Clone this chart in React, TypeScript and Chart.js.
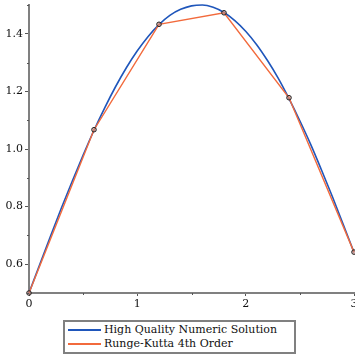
import React, { useEffect, useRef } from "react";
import { Chart, registerables } from "chart.js";

Chart.register(...registerables);

// High quality numeric solution
const exactX = [0, 0.1, 0.2, 0.3, 0.4, 0.5, 0.6, 0.7, 0.8, 0.9, 1.0, 1.1, 1.2, 1.3, 1.4, 1.5, 1.6, 1.7, 1.8, 1.9, 2.0, 2.1, 2.2, 2.3, 2.4, 2.5, 2.6, 2.7, 2.8, 2.9, 3.0];
const exactY = [0.5, 0.6, 0.699, 0.796, 0.889, 0.979, 1.065, 1.144, 1.217, 1.283, 1.341, 1.391, 1.432, 1.464, 1.485, 1.497, 1.5, 1.492, 1.474, 1.446, 1.409, 1.363, 1.308, 1.246, 1.175, 1.098, 1.016, 0.927, 0.835, 0.739, 0.641];

// Runge-Kutta 4th order
const rkX = [0, 0.6, 1.2, 1.8, 2.4, 3.0];
const rkY = [0.5, 1.067, 1.433, 1.473, 1.178, 0.642];

const seriesNames = ["High Quality Numeric Solution", "Runge-Kutta 4th Order"];
const xTickLabels = ["0", "1", "2", "3"];
const yTickLabels = ["0.6", "0.8", "1.0", "1.2", "1.4"];

const BLUE = "#1f56bb";
const ORANGE = "#f26a3c";
const AXIS = "#808080";
const FONT = "'DejaVu Serif', serif";

export default function App() {
  const ref = useRef<HTMLCanvasElement | null>(null);

  useEffect(() => {
    document.body.style.margin = "0";
    const canvas = ref.current!;
    const minorTicks = {
      id: "minorTicks",
      afterDraw(chart: any) {
        const ctx = chart.ctx;
        const xs = chart.scales.x;
        const ys = chart.scales.y;
        ctx.save();
        ctx.strokeStyle = "#555";
        ctx.lineWidth = 1;
        xs.ticks.forEach((t: any) => {
          const lbl = String(t.value);
          if (xTickLabels.indexOf(lbl) >= 0) return;
          const px = Math.round(xs.getPixelForValue(t.value)) + 0.5;
          ctx.beginPath();
          ctx.moveTo(px, ys.bottom);
          ctx.lineTo(px, ys.bottom + 2);
          ctx.stroke();
        });
        ys.ticks.forEach((t: any) => {
          const lbl = t.value.toFixed(1);
          if (yTickLabels.indexOf(lbl) >= 0) return;
          const py = Math.round(ys.getPixelForValue(t.value)) + 0.5;
          ctx.beginPath();
          ctx.moveTo(xs.left - 2, py);
          ctx.lineTo(xs.left, py);
          ctx.stroke();
        });
        ctx.restore();
      },
    };

    const chart = new Chart(canvas, {
      type: "line",
      data: {
        datasets: [
          {
            label: seriesNames[0],
            data: exactX.map((x, i) => ({ x, y: exactY[i] })),
            borderColor: BLUE,
            borderWidth: 1.6,
            pointRadius: 0,
            tension: 0.4,
            cubicInterpolationMode: "monotone",
            order: 1,
            clip: 4,
          },
          {
            label: seriesNames[1],
            data: rkX.map((x, i) => ({ x, y: rkY[i] })),
            borderColor: ORANGE,
            borderWidth: 1.4,
            pointRadius: 2.3,
            pointBorderWidth: 1,
            pointBorderColor: "#222",
            pointBackgroundColor: "rgba(200,140,130,0.6)",
            tension: 0,
            order: 0,
            clip: 4,
          },
        ],
      },
      options: {
        responsive: false,
        animation: false,
        layout: { autoPadding: false, padding: { top: 5, right: 1, left: 0, bottom: 0 } },
        plugins: { legend: { display: false }, tooltip: { enabled: false } },
        scales: {
          x: {
            type: "linear",
            min: 0,
            max: 3,
            border: { color: AXIS, width: 2 },
            grid: {
              drawOnChartArea: false,
              tickLength: 3,
              tickColor: (c: any) =>
                xTickLabels.indexOf(String(c.tick?.value)) >= 0 ? "#555" : "rgba(0,0,0,0)",
            },
            ticks: {
              stepSize: 0.5,
              padding: 2,
              maxRotation: 0,
              autoSkip: false,
              color: "#111",
              font: { family: FONT, size: 11 },
              callback: (v: any) => {
                const s = String(v);
                return xTickLabels.indexOf(s) >= 0 ? s : "";
              },
            },
            afterFit: (s: any) => {
              s.height = 62;
              s.paddingLeft = 0;
              s.paddingRight = 0;
            },
          },
          y: {
            type: "linear",
            min: 0.5,
            max: 1.5,
            border: { color: AXIS, width: 2 },
            grid: {
              drawOnChartArea: false,
              tickLength: 4,
              tickColor: (c: any) =>
                c.tick && yTickLabels.indexOf(Number(c.tick.value).toFixed(1)) >= 0 ? "#555" : "rgba(0,0,0,0)",
            },
            ticks: {
              stepSize: 0.1,
              padding: 2,
              autoSkip: false,
              color: "#111",
              font: { family: FONT, size: 11 },
              callback: (v: any) => {
                const s = Number(v).toFixed(1);
                return yTickLabels.indexOf(s) >= 0 ? s : "";
              },
            },
            afterFit: (s: any) => {
              s.width = 29;
              s.paddingTop = 0;
              s.paddingBottom = 0;
            },
          },
        },
      },
      plugins: [minorTicks],
    } as any);
    return () => chart.destroy();
  }, []);

  const row = (color: string, text: string) => (
    <div style={{ display: "flex", alignItems: "center", height: 14 }}>
      <div style={{ width: 33, height: 2, background: color, marginRight: 3 }} />
      <span>{text}</span>
    </div>
  );

  return (
    <div style={{ position: "absolute", left: 0, top: 0, width: 355, height: 355, overflow: "hidden" }}>
      <canvas ref={ref} width={355} height={355} style={{ display: "block" }} />
      <div
        style={{
          position: "absolute",
          left: 63,
          top: 320,
          width: 226,
          height: 29,
          border: "2px solid " + AXIS,
          padding: "1px 0 0 3px",
          fontFamily: FONT,
          fontSize: 11,
          color: "#111",
          lineHeight: "14px",
          background: "#fff",
        }}
      >
        {row(BLUE, seriesNames[0])}
        {row(ORANGE, seriesNames[1])}
      </div>
    </div>
  );
}
